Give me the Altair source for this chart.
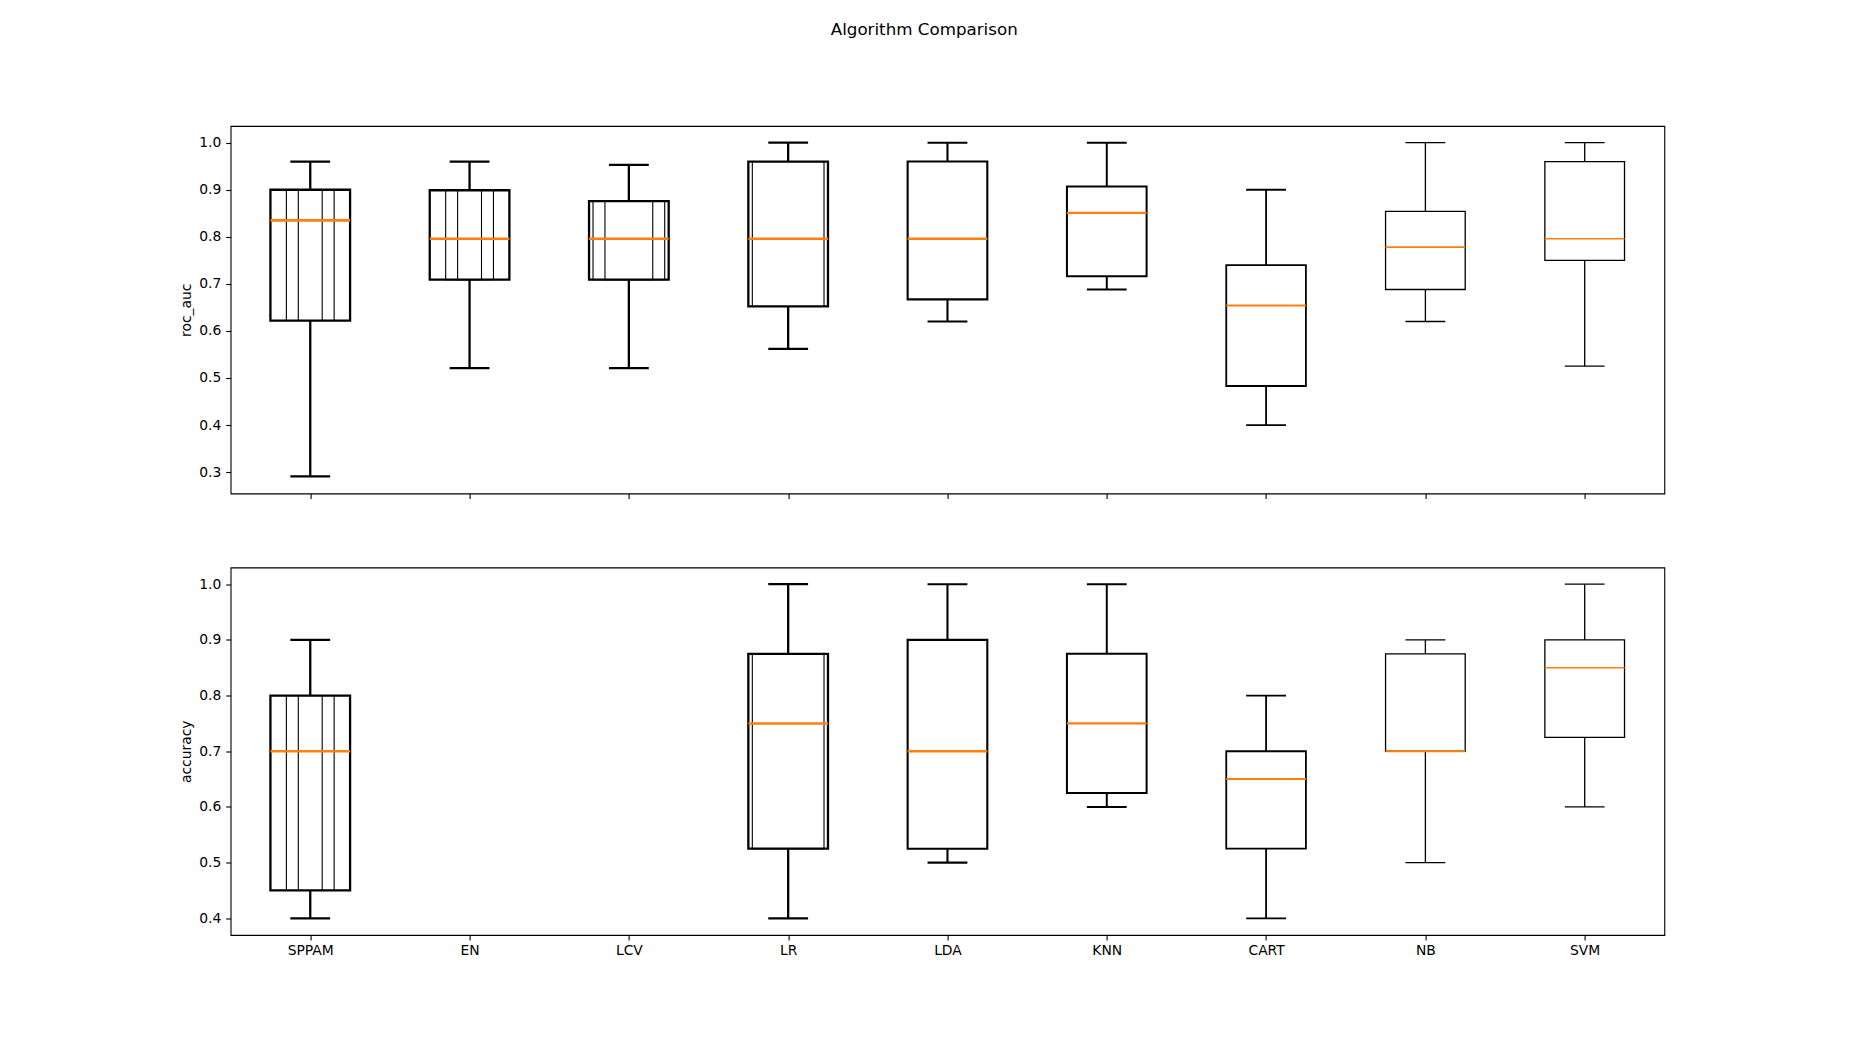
import altair as alt
import pandas as pd

# ---------------- data ----------------
NAMES = ["SPPAM", "EN", "LCV", "LR", "LDA", "KNN", "CART", "NB", "SVM"]

ROC_LOW  = [0.291, 0.521, 0.521, 0.562, 0.620, 0.688, 0.400, 0.620, 0.525]
ROC_Q1   = [0.622, 0.709, 0.709, 0.652, 0.667, 0.716, 0.483, 0.688, 0.750]
ROC_MED  = [0.835, 0.796, 0.796, 0.796, 0.796, 0.851, 0.654, 0.778, 0.796]
ROC_Q3   = [0.900, 0.899, 0.876, 0.960, 0.960, 0.907, 0.740, 0.854, 0.960]
ROC_HIGH = [0.960, 0.960, 0.953, 1.000, 1.000, 1.000, 0.900, 1.000, 1.000]

ACC_LOW  = [0.40, None, None, 0.40, 0.50, 0.60, 0.40, 0.50, 0.60]
ACC_Q1   = [0.45, None, None, 0.525, 0.525, 0.625, 0.525, 0.70, 0.725]
ACC_MED  = [0.70, None, None, 0.75, 0.70, 0.75, 0.65, 0.70, 0.85]
ACC_Q3   = [0.80, None, None, 0.875, 0.90, 0.875, 0.70, 0.875, 0.90]
ACC_HIGH = [0.90, None, None, 1.00, 1.00, 1.00, 0.80, 0.90, 1.00]

ROC_TICKS = [0.3, 0.4, 0.5, 0.6, 0.7, 0.8, 0.9, 1.0]
ACC_TICKS = [0.4, 0.5, 0.6, 0.7, 0.8, 0.9, 1.0]

# ---------------- style ----------------
W, H = 1433.75, 367.5
STEP = W / len(NAMES)
BOX = STEP * 0.5
CAP = BOX / 2
FONT = "DejaVu Sans"
ORANGE = "#ff7f0e"

LINE_W = {"SPPAM": 2.3, "EN": 2.3, "LCV": 2.3, "LR": 2.3, "LDA": 2.1,
          "KNN": 2.0, "CART": 1.8, "NB": 1.3, "SVM": 1.3}
MED_W = {"SPPAM": 2.6, "EN": 2.5, "LCV": 2.5, "LR": 2.5, "LDA": 2.4,
         "KNN": 2.2, "CART": 2.0, "NB": 1.8, "SVM": 1.5}
# redrawn narrower outlines inside some boxes (fraction of box width)
HATCH = {"SPPAM": [0.3, 0.6], "EN": [0.3, 0.6], "LCV": [0.6, 0.9], "LR": [0.9]}


def make_df(low, q1, med, q3, high):
    rows = []
    for n, a, b, c, d, e in zip(NAMES, low, q1, med, q3, high):
        if a is None:
            continue
        rows.append(dict(name=n, low=a, q1=b, med=c, q3=d, high=e,
                         lw=LINE_W[n], mw=MED_W[n]))
    return pd.DataFrame(rows)


def make_hatch(df):
    rows = []
    for _, r in df.iterrows():
        for f in HATCH.get(r["name"], []):
            rows.append(dict(name=r["name"], q1=r["q1"], q3=r["q3"], hw=f * BOX))
    return pd.DataFrame(rows)


def panel(df, title, domain, ticks, show_labels):
    xscale = alt.Scale(type="point", domain=NAMES, padding=0.5)
    yscale = alt.Scale(domain=domain, nice=False, zero=False)
    xaxis = alt.Axis(title=None, labels=show_labels, labelAngle=0, ticks=True,
                     labelPadding=3.8)
    x = alt.X("name:N", scale=xscale, axis=xaxis)
    yaxis = alt.Axis(values=ticks, format=".1f", title=title)
    sw = alt.StrokeWidth("lw:Q", scale=None, legend=None)

    base = alt.Chart(df)
    whisk = base.mark_rule(color="black").encode(
        x=x, y=alt.Y("low:Q", scale=yscale, axis=yaxis), y2="high:Q", strokeWidth=sw)
    box = base.mark_bar(size=BOX, fill="white", stroke="black").encode(
        x=x, y=alt.Y("q1:Q", scale=yscale), y2="q3:Q", strokeWidth=sw)
    layers = [whisk, box]
    hdf = make_hatch(df)
    if len(hdf):
        hatch = alt.Chart(hdf).mark_bar(fill="white", fillOpacity=0, stroke="black",
                                        strokeWidth=1.1).encode(
            x=x, y=alt.Y("q1:Q", scale=yscale), y2="q3:Q",
            size=alt.Size("hw:Q", scale=None, legend=None))
        layers.append(hatch)
    med = base.mark_rule(color=ORANGE, xOffset=-BOX / 2, x2Offset=BOX / 2).encode(
        x=x, x2="name:N", y=alt.Y("med:Q", scale=yscale),
        strokeWidth=alt.StrokeWidth("mw:Q", scale=None, legend=None))
    cap_lo = base.mark_rule(color="black", xOffset=-CAP / 2, x2Offset=CAP / 2).encode(
        x=x, x2="name:N", y=alt.Y("low:Q", scale=yscale), strokeWidth=sw)
    cap_hi = base.mark_rule(color="black", xOffset=-CAP / 2, x2Offset=CAP / 2).encode(
        x=x, x2="name:N", y=alt.Y("high:Q", scale=yscale), strokeWidth=sw)
    layers += [med, cap_lo, cap_hi]
    return alt.layer(*layers).properties(width=W, height=H)


roc = make_df(ROC_LOW, ROC_Q1, ROC_MED, ROC_Q3, ROC_HIGH)
acc = make_df(ACC_LOW, ACC_Q1, ACC_MED, ACC_Q3, ACC_HIGH)

top = panel(roc, "roc_auc", [0.2545, 1.0355], ROC_TICKS, False)
bottom = panel(acc, "accuracy", [0.37, 1.03], ACC_TICKS, True)

chart = alt.vconcat(top, bottom, spacing=73.5, bounds="flush").properties(
    title=alt.TitleParams("Algorithm Comparison", font=FONT, fontSize=16.7,
                          fontWeight="normal", color="black", anchor="middle",
                          frame="bounds", offset=87, dx=2.5),
    padding={"left": 177.6, "top": 21, "right": 20, "bottom": 20},
    background="white",
).configure_view(
    stroke="black", strokeWidth=1.1
).configure_axis(
    labelFont=FONT, labelFontSize=13.9, labelColor="black",
    titleFont=FONT, titleFontSize=13.9, titleFontWeight="normal", titleColor="black",
    tickColor="black", tickWidth=1.1, tickSize=4.9, labelPadding=4.9,
    titlePadding=5.6, domain=False, grid=False,
)

chart.save("out.html", embed_options={"renderer": "svg", "actions": False})
